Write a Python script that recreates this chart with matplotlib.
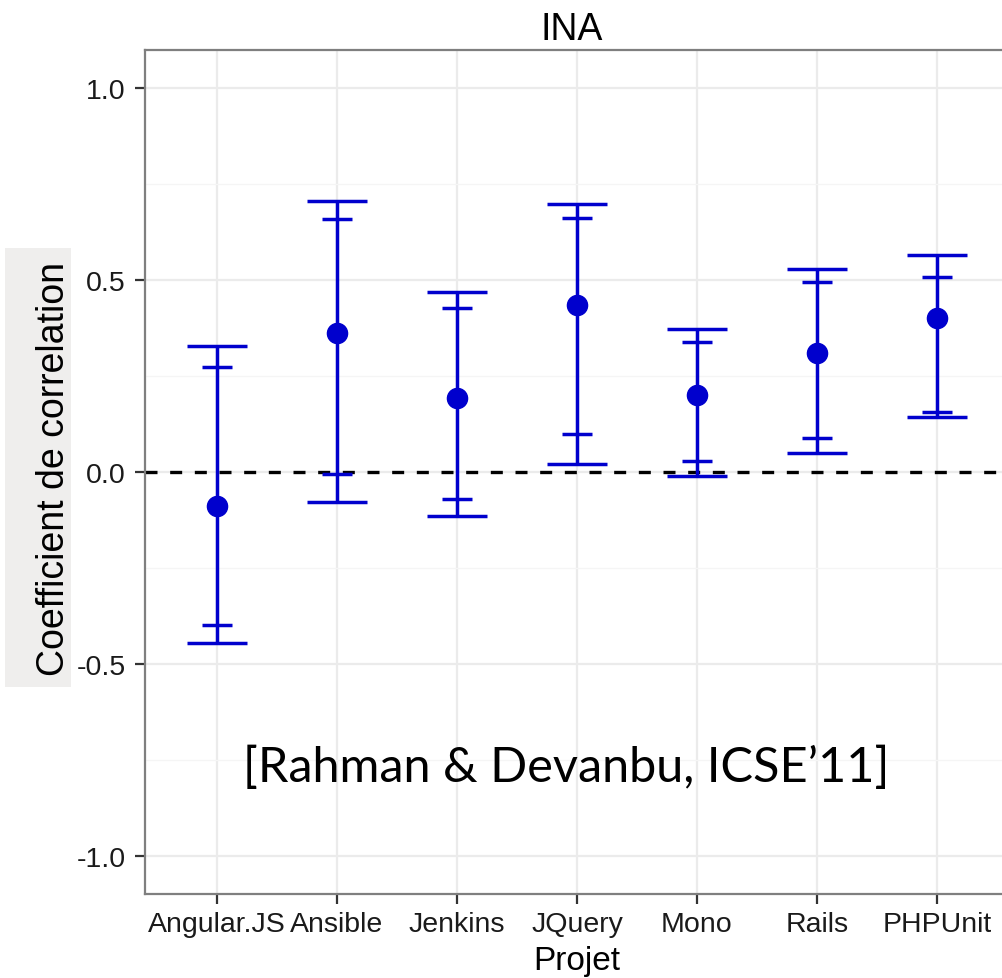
import matplotlib
matplotlib.use("Agg")
import matplotlib.pyplot as plt
from matplotlib.patches import Rectangle

# Values
projects = ["Angular.JS", "Ansible", "Jenkins", "JQuery", "Mono", "Rails", "PHPUnit"]
estimate = [-0.090, 0.363, 0.192, 0.436, 0.199, 0.310, 0.400]
outer_low = [-0.447, -0.079, -0.115, 0.021, -0.010, 0.048, 0.143]
outer_high = [0.329, 0.706, 0.468, 0.697, 0.371, 0.528, 0.565]
inner_low = [-0.400, -0.006, -0.070, 0.099, 0.028, 0.087, 0.155]
inner_high = [0.274, 0.660, 0.428, 0.662, 0.338, 0.495, 0.508]

blue = "#0000CD"
W, H = 1003, 979

fig = plt.figure(figsize=(W / 100, H / 100), dpi=100)
ax = fig.add_axes([145 / W, 84 / H, (1009 - 145) / W, (895 - 50.7) / H])

x = list(range(1, len(projects) + 1))

# background grid (ggplot look)
ax.set_axisbelow(True)
ax.set_yticks([-1.0, -0.5, 0.0, 0.5, 1.0])
ax.set_yticks([-0.75, -0.25, 0.25, 0.75], minor=True)
ax.set_xticks(x)
ax.set_xticklabels(projects)
ax.grid(which="major", color="#EBEBEB", linewidth=1.6)
ax.grid(which="minor", axis="y", color="#F5F5F5", linewidth=1.0)
ax.tick_params(axis="y", which="minor", length=0)

# dashed reference line at zero
ax.axhline(0, color="black", linewidth=2.4, dashes=(3.6, 3.8), zorder=2)

# vertical lines, outer and inner caps, and points
ax.vlines(x, outer_low, outer_high, color=blue, linewidth=2.5, zorder=3)
ax.hlines(outer_low + outer_high, [i - 0.25 for i in x] * 2, [i + 0.25 for i in x] * 2,
          color=blue, linewidth=2.5, zorder=3)
ax.hlines(inner_low + inner_high, [i - 0.125 for i in x] * 2, [i + 0.125 for i in x] * 2,
          color=blue, linewidth=2.5, zorder=3)
ax.plot(x, estimate, "o", color=blue, markersize=14.5, zorder=4)

ax.set_xlim(0.4, 7.6)
ax.set_ylim(-1.1, 1.1)
ax.set_yticklabels(["-1.0", "-0.5", "0.0", "0.5", "1.0"])

for side in ["left", "top", "bottom"]:
    ax.spines[side].set_color("#7F7F7F")
    ax.spines[side].set_linewidth(1.6)
ax.spines["right"].set_visible(False)

ax.tick_params(axis="both", which="major", length=7, width=1.6, color="#333333",
               labelsize=20.5, labelcolor="#1A1A1A")
ax.tick_params(axis="x", pad=5)
ax.tick_params(axis="y", pad=7)
for lbl in ax.get_xticklabels() + ax.get_yticklabels():
    lbl.set_fontfamily("Liberation Sans")

# titles and axis labels
fig.text(572 / W, 1 - 40 / H, "INA", ha="center", va="baseline",
         fontsize=27, family="Liberation Sans")
fig.text(577 / W, 1 - 970 / H, "Projet", ha="center", va="baseline",
         fontsize=24, family="Liberation Sans")
fig.patches.append(Rectangle((5 / W, 1 - 688 / H), 66 / W, 439 / H,
                             transform=fig.transFigure, facecolor="#EFEEED",
                             edgecolor="none", zorder=0))
fig.text(54 / W, 1 - 468.5 / H, "Coefficient de correlation", rotation=90,
         ha="center", va="center", fontsize=27, family="Liberation Sans", zorder=1)

# citation overlay
ax.text(3.91, -0.769, "[Rahman & Devanbu, ICSE\u201911]", ha="center", va="center",
        fontsize=35, family="Lato", color="black", zorder=5)

fig.savefig("out.png", dpi=100)
